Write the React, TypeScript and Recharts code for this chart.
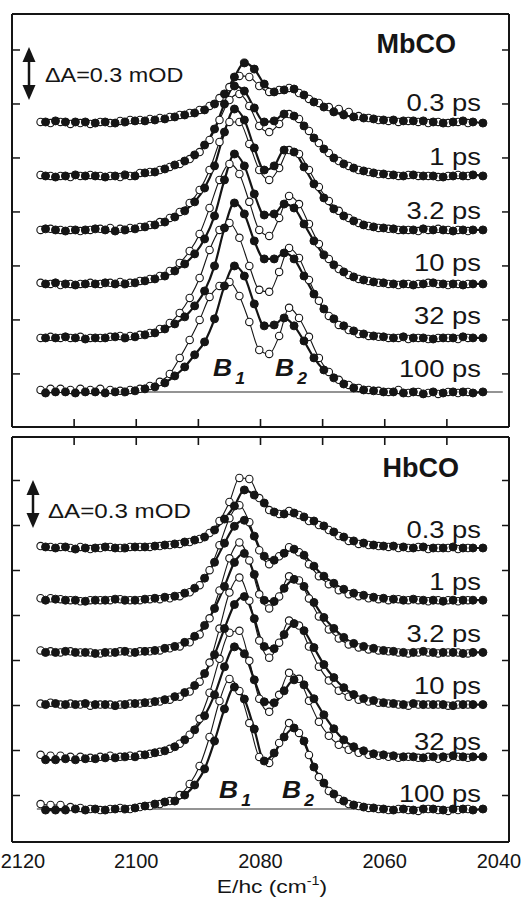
import React from 'react';
import { ComposedChart, Line, XAxis, YAxis, ReferenceLine } from 'recharts';

// wavenumber grids, cm-1 (filled = thick fit, open = thin fit)
const gridFilled = [
  2114.6, 2113.0, 2111.4, 2109.8, 2108.2, 2106.6, 2105.0, 2103.4, 2101.8, 2100.2,
  2098.6, 2097.0, 2095.4, 2093.8, 2092.2, 2090.6, 2089.0, 2087.4, 2085.8, 2084.2,
  2082.6, 2081.0, 2079.4, 2077.8, 2076.2, 2074.6, 2073.0, 2071.4, 2069.8, 2068.2,
  2066.6, 2065.0, 2063.4, 2061.8, 2060.2, 2058.6, 2057.0, 2055.4, 2053.8, 2052.2,
  2050.6, 2049.0, 2047.4, 2045.8, 2044.2,
];
const gridOpen = [
  2115.4, 2113.8, 2112.2, 2110.6, 2109.0, 2107.4, 2105.8, 2104.2, 2102.6, 2101.0,
  2099.4, 2097.8, 2096.2, 2094.6, 2093.0, 2091.4, 2089.8, 2088.2, 2086.6, 2085.0,
  2083.4, 2081.8, 2080.2, 2078.6, 2077.0, 2075.4, 2073.8, 2072.2, 2070.6, 2069.0,
  2067.4, 2065.8, 2064.2, 2062.6, 2061.0, 2059.4, 2057.8, 2056.2, 2054.6, 2053.0,
  2051.4, 2049.8, 2048.2, 2046.6,
];

const delays = ['0.3 ps', '1 ps', '3.2 ps', '10 ps', '32 ps', '100 ps'];
const bottomTicks = [2120, 2100, 2080, 2060, 2040];
const minorTicks = [2110, 2100, 2090, 2080, 2070, 2060, 2050];

// MbCO transient spectra, ΔA in µOD (1e-3 mOD)
const mbFilled03 = [0, 6, 0, 0, 0, -6, 0, -6, 0, 6, 6, 11, 17, 28, 39, 50, 67, 100, 156, 250, 328, 294, 211, 167, 178, 183, 150, 111, 83, 56, 39, 28, 22, 17, 11, 11, 6, 6, 6, 0, -6, 0, 6, 0, -6];
const mbFilled1 = [0, -6, 0, 6, 0, 0, -6, 0, 6, 0, 17, 22, 39, 61, 83, 117, 172, 261, 400, 500, 472, 378, 300, 306, 344, 333, 278, 211, 150, 100, 67, 44, 28, 17, 11, 6, 0, 6, 0, 0, -6, 0, 0, 6, 0];
const mbFilled3 = [6, 0, -6, 0, 0, 6, 0, -6, 0, 6, 17, 28, 44, 72, 106, 156, 233, 356, 544, 672, 611, 456, 333, 356, 444, 433, 350, 256, 178, 117, 78, 50, 28, 17, 11, 6, 0, 0, 6, 0, 0, -6, 0, 0, 0];
const mbFilled10 = [0, 6, 0, -6, 0, 0, 6, 0, 0, 6, 17, 28, 44, 72, 111, 167, 250, 378, 578, 722, 656, 500, 383, 389, 444, 422, 333, 239, 161, 106, 67, 39, 22, 11, 6, 0, 0, -6, 0, 6, 0, 0, -6, 0, 0];
const mbFilled32 = [0, 0, 6, 0, -6, 0, 0, 6, 0, 6, 17, 28, 50, 78, 117, 178, 261, 400, 611, 750, 689, 539, 439, 439, 472, 439, 344, 244, 161, 106, 67, 39, 22, 11, 6, 0, 6, 0, 0, -6, 0, 0, 6, 0, 0];
const mbFilled100 = [-6, 0, 0, -6, 0, 0, -6, 0, 0, 6, 17, 28, 50, 89, 139, 206, 278, 406, 589, 700, 644, 489, 367, 372, 411, 367, 283, 189, 122, 78, 44, 22, 11, 6, 0, 0, -6, 0, -11, 0, -6, 0, 0, -6, 0];

const mbOpen03 = [0, -6, 0, -11, -6, -11, 0, -6, 6, 11, 11, 17, 22, 28, 39, 50, 67, 89, 133, 194, 256, 250, 200, 167, 178, 189, 161, 128, 106, 83, 72, 56, 33, 22, 11, 6, 0, 6, 0, -6, 0, -6, 0, -6];
const mbOpen1 = [6, 0, 0, -6, 0, 6, 0, 0, -6, 0, 17, 22, 33, 50, 67, 94, 133, 200, 311, 422, 456, 389, 278, 244, 289, 344, 317, 250, 183, 128, 83, 56, 33, 22, 11, 6, 0, 6, 0, 0, -6, 0, 6, 0];
const mbOpen3 = [0, 6, 0, 0, -6, 0, 6, 11, 6, 11, 17, 28, 44, 67, 100, 150, 222, 333, 489, 600, 600, 478, 333, 278, 344, 444, 422, 333, 239, 161, 106, 67, 39, 22, 11, 6, 0, 0, -6, 0, 6, 0, 0, -6];
const mbOpen10 = [6, 0, -6, 0, 0, 6, 0, 6, 11, 6, 17, 28, 44, 72, 117, 183, 278, 422, 578, 667, 611, 456, 300, 267, 367, 489, 444, 333, 222, 139, 83, 50, 28, 17, 6, 0, -6, 0, 0, 6, 0, -6, 0, 0];
const mbOpen32 = [0, 6, 0, 0, 6, 0, 0, 6, 11, 11, 17, 28, 50, 83, 139, 222, 333, 489, 600, 639, 556, 400, 267, 256, 367, 500, 444, 322, 206, 122, 72, 44, 22, 11, 6, 0, 0, -6, 0, -6, 0, 0, -6, 0];
const mbOpen100 = [11, 17, 17, 11, 17, 11, 17, 11, 6, 11, 17, 33, 56, 100, 189, 289, 400, 528, 589, 611, 533, 389, 233, 211, 311, 467, 411, 306, 189, 111, 67, 39, 22, 11, 6, 0, 11, -6, 0, -6, -11, 0, -6, 0];

// HbCO transient spectra, ΔA in µOD
const hbFilled03 = [7, 0, 7, -7, 0, 0, 7, 0, 0, 7, 7, 13, 20, 27, 40, 53, 73, 120, 193, 280, 387, 353, 300, 240, 227, 233, 207, 180, 147, 107, 73, 47, 33, 20, 13, 13, 7, 0, 7, 0, 0, 7, 0, 0, 0];
const hbFilled1 = [0, 7, 0, 0, -7, 0, 0, 7, 0, 0, 7, 13, 20, 27, 47, 80, 147, 253, 380, 493, 533, 427, 293, 267, 313, 340, 300, 227, 160, 113, 73, 47, 33, 20, 13, 7, 0, 7, 0, 0, -7, 0, 0, 0, 0];
const hbFilled3 = [0, 0, 7, 0, 0, -7, 0, 0, 7, 0, 7, 13, 27, 40, 67, 107, 180, 293, 440, 600, 660, 520, 347, 340, 427, 487, 440, 333, 233, 160, 100, 60, 40, 27, 13, 7, 0, 0, 7, 0, 0, 0, -7, 0, 0];
const hbFilled10 = [0, 7, 0, 0, 7, 0, 0, -7, 0, 7, 13, 20, 33, 53, 80, 127, 207, 333, 507, 667, 720, 573, 387, 373, 467, 540, 493, 380, 267, 180, 113, 67, 40, 27, 13, 7, 0, 7, 0, 0, 0, -7, 0, 0, 0];
const hbFilled32 = [-20, -20, -13, -20, -13, -13, -7, -7, 0, 0, 13, 27, 40, 67, 113, 180, 273, 413, 600, 733, 687, 513, 367, 360, 440, 513, 480, 387, 280, 187, 113, 67, 40, 20, 13, 7, 0, 0, -7, 0, 0, 7, 0, 0, 0];
const hbFilled100 = [-7, -7, -7, 0, -7, 0, -7, 0, 0, 7, 20, 33, 47, 53, 93, 160, 267, 453, 667, 813, 733, 533, 320, 373, 480, 540, 453, 280, 173, 100, 53, 27, 13, 7, 0, -7, 0, -7, 0, 0, -7, 0, 0, -7, 0];

const hbOpen03 = [13, 7, 7, 0, 7, -7, 0, 7, 0, 7, 7, 7, 13, 20, 27, 40, 60, 100, 180, 307, 467, 460, 333, 253, 227, 247, 220, 180, 153, 120, 80, 47, 27, 20, 13, 7, 0, 0, 7, -7, 0, 0, -7, 0];
const hbOpen1 = [13, 13, 7, 0, -7, 0, 0, 0, 7, 0, 0, 7, 7, 13, 27, 53, 100, 200, 367, 547, 633, 520, 333, 240, 293, 353, 320, 240, 160, 107, 67, 40, 27, 13, 7, 0, 7, 0, 0, -7, 0, 0, -7, 0];
const hbOpen3 = [13, 7, 0, 7, 0, 0, -7, 0, 7, 0, 7, 7, 13, 27, 40, 67, 120, 227, 413, 627, 733, 613, 387, 293, 373, 507, 480, 360, 240, 153, 93, 53, 33, 20, 13, 7, 0, -7, 0, 0, -7, 0, 0, -7];
const hbOpen10 = [7, 13, 0, 7, 0, -7, 0, 0, 0, 7, 7, 13, 20, 33, 53, 87, 153, 280, 507, 747, 847, 693, 427, 313, 413, 560, 527, 387, 253, 160, 93, 53, 33, 20, 13, 7, 0, -7, 0, 0, 0, -7, 0, 0];
const hbOpen32 = [13, 7, 7, 0, 0, -7, 0, 7, 0, 7, 13, 20, 33, 53, 87, 147, 253, 427, 653, 827, 840, 640, 387, 300, 413, 560, 520, 373, 233, 140, 80, 47, 27, 13, 7, 0, -7, 0, -7, 0, -13, -7, 0, -7];
const hbOpen100 = [33, 27, 27, 13, 7, 0, -7, 0, 7, 0, 13, 20, 33, 53, 93, 167, 287, 480, 720, 867, 787, 573, 347, 307, 440, 573, 507, 360, 213, 120, 67, 33, 20, 7, 0, -7, 0, -7, -13, 0, -7, -13, -7, 0];

const INK = '#151515';
const FONT = '"Liberation Sans", Arial, Helvetica, sans-serif';

// plot box shared by both panels (page pixels)
const PLOT_LEFT = 12;
const PLOT_RIGHT = 509;
const xPx = (v: number) => PLOT_LEFT + ((2120 - v) / 80) * (PLOT_RIGHT - PLOT_LEFT);

type Pt = { x: number; y: number };

function stack(grid: number[], series: number[][], offsets: number[]): Pt[][] {
  return series.map((s, i) => s.map((v, k) => ({ x: grid[k], y: v + offsets[i] })));
}

const blank = () => '';

function EnergyTick({ x, y, payload }: any) {
  const v = payload.value;
  // keep the end labels inside the page
  const dx = v === 2120 ? 11 : v === 2040 ? -10 : 0;
  return (
    <text x={x + dx} y={y + 26} textAnchor="middle" fontSize={20} fill={INK} fontFamily={FONT}>
      {v}
    </text>
  );
}

interface PanelProps {
  height: number;
  margin: { top: number; right: number; bottom: number; left: number };
  yDomain: [number, number];
  yTicks: number[];
  filled: Pt[][];
  open: Pt[][];
  baselineEnd: number;
  labelled: boolean;
}

function Panel({ height, margin, yDomain, yTicks, filled, open, baselineEnd, labelled }: PanelProps) {
  const frame = { stroke: INK, strokeWidth: 2 };
  const tickLine = { stroke: INK, strokeWidth: 1.5 };
  return (
    <ComposedChart width={524} height={height} margin={margin}>
      {labelled ? (
        <XAxis xAxisId="b" dataKey="x" type="number" domain={[2040, 2120]} reversed allowDataOverflow
          orientation="bottom" height={30} ticks={bottomTicks} interval={0} tickLine={false}
          tickSize={0} tickMargin={0} axisLine={frame} tick={<EnergyTick />} />
      ) : (
        <XAxis xAxisId="b" dataKey="x" type="number" domain={[2040, 2120]} reversed allowDataOverflow
          orientation="bottom" mirror ticks={minorTicks} interval={0} tickFormatter={blank}
          tickLine={false} axisLine={frame} />
      )}
      <XAxis xAxisId="t" dataKey="x" type="number" domain={[2040, 2120]} reversed allowDataOverflow
        orientation="top" mirror ticks={minorTicks} interval={0} tickFormatter={blank}
        tickLine={false} axisLine={frame} />
      <YAxis yAxisId="l" type="number" domain={yDomain} allowDataOverflow orientation="left" mirror
        ticks={yTicks} interval={0} tickFormatter={blank} tickSize={8} tickLine={tickLine} axisLine={frame} />
      <YAxis yAxisId="r" type="number" domain={yDomain} allowDataOverflow orientation="right" mirror
        ticks={yTicks} interval={0} tickFormatter={blank} tickSize={7} tickLine={tickLine} axisLine={frame} />
      <ReferenceLine xAxisId="b" yAxisId="l" segment={[{ x: 2116, y: 0 }, { x: baselineEnd, y: 0 }]}
        stroke="#707070" strokeWidth={1.5} />
      {open.map((d, i) => (
        <Line key={'o' + i} data={d} dataKey="y" xAxisId="b" yAxisId="l" type="monotone"
          stroke={INK} strokeWidth={1.1} dot={{ r: 3.7, fill: '#fff', stroke: INK, strokeWidth: 1.1 }}
          activeDot={false} isAnimationActive={false} />
      ))}
      {filled.map((d, i) => (
        <Line key={'f' + i} data={d} dataKey="y" xAxisId="b" yAxisId="l" type="monotone"
          stroke={INK} strokeWidth={2.2} dot={{ r: 4, fill: INK, stroke: INK, strokeWidth: 1 }}
          activeDot={false} isAnimationActive={false} />
      ))}
    </ComposedChart>
  );
}

function DoubleArrow({ x, y1, y2 }: { x: number; y1: number; y2: number }) {
  return (
    <g fill={INK}>
      <line x1={x} x2={x} y1={y1 + 10} y2={y2 - 10} stroke={INK} strokeWidth={2.5} />
      <polygon points={`${x},${y1} ${x - 6.5},${y1 + 15} ${x + 6.5},${y1 + 15}`} />
      <polygon points={`${x},${y2} ${x - 6.5},${y2 - 15} ${x + 6.5},${y2 - 15}`} />
    </g>
  );
}

function Band({ x, y, n }: { x: number; y: number; n: string }) {
  return (
    <text transform={`translate(${x},${y}) scale(1.1,1)`} fontSize={24} fontWeight="bold"
      fontStyle="italic" fill={INK} fontFamily={FONT}>
      B<tspan fontSize={16} dx={3} dy={8}>{n}</tspan>
    </text>
  );
}

export default function App() {
  const mbOffsets = [1500, 1200, 900, 600, 300, 0];
  const hbOffsets = [1740, 1392, 1044, 696, 348, 0];
  const mbF = stack(gridFilled, [mbFilled03, mbFilled1, mbFilled3, mbFilled10, mbFilled32, mbFilled100], mbOffsets);
  const mbO = stack(gridOpen, [mbOpen03, mbOpen1, mbOpen3, mbOpen10, mbOpen32, mbOpen100], mbOffsets);
  const hbF = stack(gridFilled, [hbFilled03, hbFilled1, hbFilled3, hbFilled10, hbFilled32, hbFilled100], hbOffsets);
  const hbO = stack(gridOpen, [hbOpen03, hbOpen1, hbOpen3, hbOpen10, hbOpen32, hbOpen100], hbOffsets);

  const mbLabelY = [111, 165, 219, 271, 324, 377];
  const hbLabelY = [538, 590, 642, 694, 750, 802];

  return (
    <div style={{ position: 'absolute', left: 0, top: 0, width: 524, height: 906, background: '#fff' }}>
      <div style={{ position: 'absolute', left: 0, top: 0 }}>
        <Panel height={432} margin={{ top: 14, right: 15, bottom: 5, left: 12 }}
          yDomain={[-195, 2100]} yTicks={[100, 400, 700, 1000, 1300, 1600, 1900]}
          filled={mbF} open={mbO} baselineEnd={2041} labelled={false} />
      </div>
      <div style={{ position: 'absolute', left: 0, top: 432 }}>
        <Panel height={474} margin={{ top: 5, right: 15, bottom: 34, left: 12 }}
          yDomain={[-220, 2480]} yTicks={[90, 390, 690, 990, 1290, 1590, 1890, 2190]}
          filled={hbF} open={hbO} baselineEnd={2044} labelled />
      </div>
      <svg width={524} height={906} style={{ position: 'absolute', left: 0, top: 0, pointerEvents: 'none' }}
        fontFamily={FONT}>
        {/* inward minor ticks between the panels */}
        {minorTicks.map((t) => (
          <g key={'tk' + t} stroke={INK} strokeWidth={1.6}>
            <line x1={xPx(t)} x2={xPx(t)} y1={427} y2={419} />
            <line x1={xPx(t)} x2={xPx(t)} y1={437} y2={445} />
          </g>
        ))}
        <text x={456} y={53} textAnchor="end" fontSize={27} fontWeight="bold" fill={INK}>MbCO</text>
        <text x={459} y={477} textAnchor="end" fontSize={27} fontWeight="bold" fill={INK}>HbCO</text>
        {delays.map((d, i) => (
          <text key={'m' + d} transform={`translate(481,${mbLabelY[i]}) scale(1.14,1)`} textAnchor="end"
            fontSize={24} fill={INK}>{d}</text>
        ))}
        {delays.map((d, i) => (
          <text key={'h' + d} transform={`translate(481,${hbLabelY[i]}) scale(1.14,1)`} textAnchor="end"
            fontSize={24} fill={INK}>{d}</text>
        ))}
        <DoubleArrow x={29} y1={47} y2={100} />
        <text transform="translate(45,82) scale(1.17,1)" fontSize={20} fill={INK}>ΔA=0.3 mOD</text>
        <DoubleArrow x={33} y1={480} y2={528} />
        <text transform="translate(48,518) scale(1.15,1)" fontSize={21} fill={INK}>ΔA=0.3 mOD</text>
        <Band x={213} y={376} n="1" />
        <Band x={275} y={376} n="2" />
        <Band x={219} y={798} n="1" />
        <Band x={282} y={798} n="2" />
        <text transform="translate(272,893) scale(1.2,1)" textAnchor="middle" fontSize={19} fill={INK}>
          E/hc (cm<tspan fontSize={12} dy={-8}>-1</tspan><tspan dy={8}>)</tspan>
        </text>
      </svg>
    </div>
  );
}
